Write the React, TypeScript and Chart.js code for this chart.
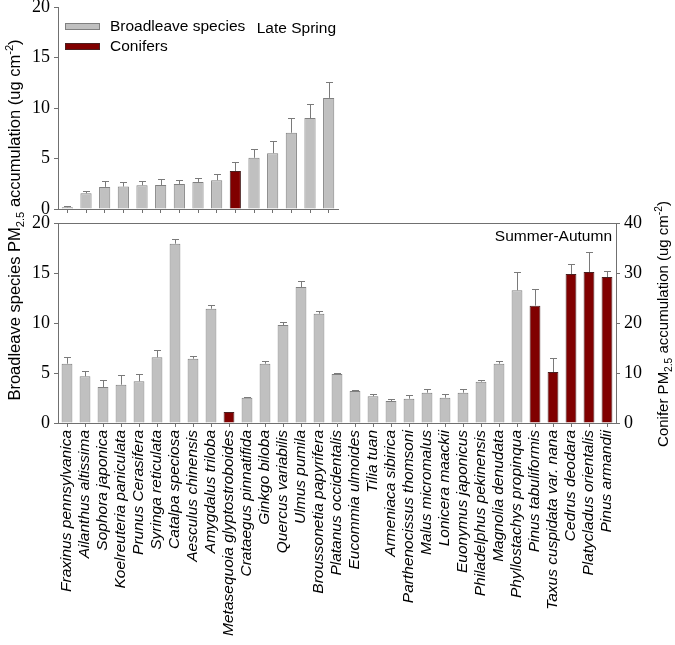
import React, { useEffect, useRef } from "react";
import { Chart, registerables } from "chart.js";
Chart.register(...registerables);

// ---------- Late Spring (top panel) ----------
const lsRank = ["1", "2", "3", "4", "5", "6", "7", "8", "9", "10", "11", "12", "13", "14", "15"];
const lsBroadleave = [0.17, 1.56, 2.19, 2.22, 2.35, 2.38, 2.48, 2.68, 2.85, null, 5.07, 5.53, 7.55, 9.0, 11.0];
const lsBroadleaveErr = [0.09, 0.26, 0.59, 0.5, 0.46, 0.6, 0.4, 0.37, 0.66, null, 0.86, 1.22, 1.42, 1.43, 1.62];
const lsConifer = [null, null, null, null, null, null, null, null, null, 3.77, null, null, null, null, null];
const lsConiferErr = [null, null, null, null, null, null, null, null, null, 0.87, null, null, null, null, null];

// ---------- Summer-Autumn (bottom panel) ----------
const saSpecies = [
  "Fraxinus pennsylvanica", "Ailanthus altissima", "Sophora japonica", "Koelreuteria paniculata",
  "Prunus Cerasifera", "Syringa reticulata", "Catalpa speciosa", "Aesculus chinensis",
  "Amygdalus triloba", "Metasequoia glyptostroboides", "Crataegus pinnatifida", "Ginkgo biloba",
  "Quercus variabilis", "Ulmus pumila", "Broussonetia papyrifera", "Platanus occidentalis",
  "Eucommia ulmoides", "Tilia tuan", "Armeniaca sibirica", "Parthenocissus thomsoni",
  "Malus micromalus", "Lonicera maackii", "Euonymus japonicus", "Philadelphus pekinensis",
  "Magnolia denudata", "Phyllostachys propinqua", "Pinus tabuliformis", "Taxus cuspidata var. nana",
  "Cedrus deodara", "Platycladus orientalis", "Pinus armandii",
];
const saBroadleave = [5.93, 4.67, 3.6, 3.83, 4.17, 6.57, 17.93, 6.43, 11.43, null, 2.53, 5.93, 9.8, 13.6, 10.93,
  4.9, 3.2, 2.67, 2.2, 2.43, 3.03, 2.53, 3.03, 4.13, 5.93, 13.27, null, null, null, null, null];
const saBroadleaveErr = [0.7, 0.57, 0.73, 1.0, 0.73, 0.73, 0.47, 0.27, 0.37, null, 0.1, 0.3, 0.3, 0.63, 0.3,
  0.13, 0.07, 0.2, 0.23, 0.33, 0.4, 0.33, 0.37, 0.17, 0.3, 1.87, null, null, null, null, null];
const saConifer = [null, null, null, null, null, null, null, null, null, 2.2, null, null, null, null, null,
  null, null, null, null, null, null, null, null, null, null, null, 23.47, 10.2, 29.8, 30.2, 29.2];
const saConiferErr = [null, null, null, null, null, null, null, null, null, 0, null, null, null, null, null,
  null, null, null, null, null, null, null, null, null, null, null, 3.4, 2.87, 2.0, 3.93, 1.2];

const leftTicks = [0, 5, 10, 15, 20];
const rightTicks = [0, 10, 20, 30, 40];

const SANS = "'Liberation Sans', Arial, sans-serif";
const SERIF = "Liberation Serif";
const AXIS = "#707070";
const GRAY = "#C0C0C0";
const GRAY_EDGE = "#808080";
const RED = "#800000";
const RED_EDGE = "#4a2020";

const errorBarPlugin = {
  id: "errbars",
  afterDatasetsDraw(chart: any) {
    const ctx = chart.ctx;
    chart.data.datasets.forEach((ds: any, i: number) => {
      const errs = ds.errors;
      if (!errs) return;
      const meta = chart.getDatasetMeta(i);
      const scale = chart.scales[meta.yAxisID];
      meta.data.forEach((el: any, j: number) => {
        const v = ds.data[j];
        const e = errs[j];
        if (v == null || e == null || e <= 0) return;
        const x = Math.round(el.x) + 0.5;
        const y0 = el.y;
        const y1 = Math.round(scale.getPixelForValue(v + e)) + 0.5;
        ctx.save();
        ctx.strokeStyle = "#7a7a7a";
        ctx.lineWidth = 1;
        ctx.beginPath();
        ctx.moveTo(x, y0);
        ctx.lineTo(x, y1);
        ctx.moveTo(x - 3.5, y1);
        ctx.lineTo(x + 3.5, y1);
        ctx.stroke();
        ctx.restore();
      });
    });
  },
};

function drawRich(ctx: CanvasRenderingContext2D, segs: [string, number][], cx: number, cy: number, size: number) {
  const small = size * 0.68;
  const fontFor = (k: number) => `${k === 0 ? size : small}px ${SANS}`;
  let total = 0;
  segs.forEach(([t, k]) => {
    ctx.font = fontFor(k);
    total += ctx.measureText(t).width;
  });
  ctx.save();
  ctx.translate(cx, cy);
  ctx.rotate(-Math.PI / 2);
  ctx.fillStyle = "#000";
  ctx.textBaseline = "alphabetic";
  ctx.textAlign = "left";
  let x = -total / 2;
  const base = size * 0.36;
  segs.forEach(([t, k]) => {
    ctx.font = fontFor(k);
    const y = k === 1 ? base + size * 0.22 : k === 2 ? base - size * 0.42 : base;
    ctx.fillText(t, x, y);
    x += ctx.measureText(t).width;
  });
  ctx.restore();
}

const bottomDecor = {
  id: "bottomDecor",
  afterDraw(chart: any) {
    const ctx = chart.ctx;
    const a = chart.chartArea;
    ctx.save();
    ctx.strokeStyle = AXIS;
    ctx.lineWidth = 1;
    ctx.beginPath();
    ctx.moveTo(a.left, Math.round(a.top) + 0.5);
    ctx.lineTo(a.right, Math.round(a.top) + 0.5);
    ctx.stroke();
    ctx.fillStyle = "#000";
    ctx.font = `15.5px ${SANS}`;
    ctx.textAlign = "right";
    ctx.textBaseline = "middle";
    ctx.fillText("Summer-Autumn", a.right - 4, a.top + 14);
    ctx.restore();
    drawRich(ctx, [["Broadleave species PM", 0], ["2.5", 1], [" accumulation (ug cm", 0], ["-2", 2], [")", 0]], 14, 220, 16.5);
    drawRich(ctx, [["Conifer PM", 0], ["2.5", 1], [" accumulation (ug cm", 0], ["-2", 2], [")", 0]], 663, 324, 15);
  },
};

const topDecor = {
  id: "topDecor",
  afterDraw(chart: any) {
    const ctx = chart.ctx;
    const a = chart.chartArea;
    ctx.save();
    const items = chart.data.datasets.map((d: any) => ({ label: d.label, fill: d.backgroundColor, edge: d.borderColor }));
    items.forEach((it: any, i: number) => {
      const y = a.top + 16 + i * 20;
      ctx.fillStyle = it.fill;
      ctx.fillRect(a.left + 7, y, 35, 7);
      ctx.strokeStyle = it.edge;
      ctx.lineWidth = 1;
      ctx.strokeRect(a.left + 7.5, y + 0.5, 34, 6);
      ctx.fillStyle = "#000";
      ctx.font = `15.5px ${SANS}`;
      ctx.textAlign = "left";
      ctx.textBaseline = "middle";
      ctx.fillText(it.label, a.left + 52, y + 3.5);
    });
    ctx.font = `15.5px ${SANS}`;
    ctx.textAlign = "right";
    ctx.textBaseline = "middle";
    ctx.fillText("Late Spring", a.right - 2, a.top + 22);
    ctx.restore();
  },
};

function yScale(min: number, max: number, ticks: number[], pos: string, width: number) {
  return {
    type: "linear",
    position: pos,
    min,
    max,
    afterBuildTicks(scale: any) {
      scale.ticks = ticks.map((v) => ({ value: v }));
    },
    afterFit(scale: any) {
      scale.width = width;
      scale.paddingTop = 0;
      scale.paddingBottom = 0;
    },
    ticks: { font: { family: SERIF, size: 18 }, color: "#000", padding: 4 },
    grid: { drawOnChartArea: false, drawTicks: true, tickLength: 4, color: AXIS },
    border: { display: true, color: AXIS },
  };
}

export default function App() {
  const topRef = useRef<HTMLCanvasElement>(null);
  const botRef = useRef<HTMLCanvasElement>(null);

  useEffect(() => {
    const barCommon = { grouped: false, barPercentage: 0.6, categoryPercentage: 1, borderWidth: 1 };

    const bottom = new Chart(botRef.current as HTMLCanvasElement, {
      type: "bar",
      data: {
        labels: saSpecies,
        datasets: [
          { label: "Broadleave species", data: saBroadleave, errors: saBroadleaveErr, yAxisID: "y",
            backgroundColor: GRAY, borderColor: GRAY_EDGE, ...barCommon } as any,
          { label: "Conifers", data: saConifer, errors: saConiferErr, yAxisID: "y2",
            backgroundColor: RED, borderColor: RED_EDGE, ...barCommon } as any,
        ],
      },
      options: {
        responsive: false,
        animation: false,
        devicePixelRatio: 1,
        layout: { padding: { top: 223, left: 0, right: 0, bottom: 0 } },
        plugins: { legend: { display: false }, tooltip: { enabled: false } },
        scales: {
          x: {
            type: "category",
            offset: true,
            afterFit(scale: any) {
              scale.height = 222;
            },
            ticks: {
              autoSkip: false,
              minRotation: 90,
              maxRotation: 90,
              font: { family: SANS, size: 15.5, style: "italic" },
              color: "#000",
              padding: 3,
            },
            grid: { drawOnChartArea: false, drawTicks: true, tickLength: 4, color: AXIS, offset: false },
            border: { display: true, color: AXIS },
          },
          y: yScale(0, 20, leftTicks, "left", 58),
          y2: yScale(0, 40, rightTicks, "right", 59),
        } as any,
      },
      plugins: [errorBarPlugin, bottomDecor],
    });

    const top = new Chart(topRef.current as HTMLCanvasElement, {
      type: "bar",
      data: {
        labels: lsRank,
        datasets: [
          { label: "Broadleave species", data: lsBroadleave, errors: lsBroadleaveErr, yAxisID: "y",
            backgroundColor: GRAY, borderColor: GRAY_EDGE, ...barCommon } as any,
          { label: "Conifers", data: lsConifer, errors: lsConiferErr, yAxisID: "y",
            backgroundColor: RED, borderColor: RED_EDGE, ...barCommon } as any,
        ],
      },
      options: {
        responsive: false,
        animation: false,
        devicePixelRatio: 1,
        layout: { padding: { top: 7, left: 0, right: 7, bottom: 0 } },
        plugins: { legend: { display: false }, tooltip: { enabled: false } },
        scales: {
          x: {
            type: "category",
            offset: true,
            afterFit(scale: any) {
              scale.height = 16;
            },
            ticks: { display: false },
            grid: { drawOnChartArea: false, drawTicks: true, tickLength: 4, color: AXIS, offset: false },
            border: { display: true, color: AXIS },
          },
          y: yScale(0, 20, leftTicks, "left", 58),
        } as any,
      },
      plugins: [errorBarPlugin, topDecor],
    });

    return () => {
      top.destroy();
      bottom.destroy();
    };
  }, []);

  return (
    <div style={{ position: "absolute", left: 0, top: 0, width: 675, height: 645, background: "#fff" }}>
      <canvas ref={botRef} width={675} height={645} style={{ position: "absolute", left: 0, top: 0, width: 675, height: 645 }} />
      <canvas ref={topRef} width={345} height={225} style={{ position: "absolute", left: 0, top: 0, width: 345, height: 225 }} />
    </div>
  );
}
